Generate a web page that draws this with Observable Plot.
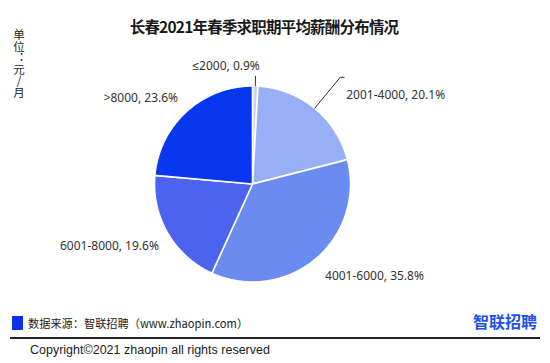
<!DOCTYPE html>
<html><head><meta charset="utf-8">
<script src="https://cdn.jsdelivr.net/npm/d3@7"></script>
<script src="https://cdn.jsdelivr.net/npm/@observablehq/plot@0.6"></script>
<style>
body{margin:0;background:#fff;}
#wrap{position:relative;width:550px;height:363px;overflow:hidden;font-family:"Noto Sans CJK SC","Noto Sans",sans-serif;color:#222;}
#wrap > div{position:absolute;white-space:nowrap;}
#title{top:16px;left:4px;width:520px;text-align:center;font-size:15.5px;letter-spacing:-0.8px;font-weight:bold;line-height:20px;color:#1a1a1a;}
#unit{left:12px;top:29px;font-size:11.5px;line-height:14px;writing-mode:vertical-rl;text-orientation:upright;}
#chart{left:0;top:0;}
#sq{left:12px;top:316px;width:11px;height:14px;background:#0a30ee;}
#src{left:28px;top:315px;font-size:11.2px;line-height:16px;}
#logo{left:473px;top:311px;font-size:16px;font-weight:bold;line-height:20px;color:#1e50ea;}
#rule{left:10px;top:337px;width:530px;height:1.5px;background:#222;}
#copy{left:30px;top:342px;font-size:12.5px;line-height:16px;font-family:"Liberation Sans",sans-serif;}
</style></head><body>
<div id="wrap">
  <div id="chart"></div>
  <div id="title">长春2021年春季求职期平均薪酬分布情况</div>
  <div id="unit">单位：元/月</div>
  <div id="sq"></div>
  <div id="src">数据来源：智联招聘（www.zhaopin.com）</div>
  <div id="logo">智联招聘</div>
  <div id="rule"></div>
  <div id="copy">Copyright©2021 zhaopin all rights reserved</div>
</div>
<script>
const categories = ["≤2000", "2001-4000", "4001-6000", "6001-8000", ">8000"];
const shares = [0.9, 20.1, 35.8, 19.6, 23.6];
const colors = ["#c8d3f5", "#98aff8", "#6a8cf1", "#4b63ee", "#0737ef"];

// label placement: radius factor, anchor, pixel nudge, leader line
const labelPlacement = {
  "≤2000":     {k: 1.2,  anchor: "end",   dx: 4,  dy: 0,  leader: [1.0, 1.1], tail: 0},
  "2001-4000": {k: 1.41, anchor: "start", dx: 6,  dy: 18, leader: [1.0, 1.41], tail: 4},
  "4001-6000": {k: 1.2,  anchor: "start", dx: -3, dy: 2},
  "6001-8000": {k: 1.2,  anchor: "end",   dx: 8,  dy: 3},
  ">8000":     {k: 1.2,  anchor: "end",   dx: 5,  dy: 1}
};

const R = 98; // pixel radius (for converting nudges)
const data = categories.map((c, i) => ({cat: c, share: shares[i], color: colors[i]}));
const arcs = d3.pie().sort(null).value(d => d.share)(data);

const marks = [];
arcs.forEach(a => {
  const pts = [{x: 0, y: 0}];
  const n = Math.max(2, Math.ceil((a.endAngle - a.startAngle) / (Math.PI / 360)));
  for (let j = 0; j <= n; j++) {
    const t = a.startAngle + (a.endAngle - a.startAngle) * j / n;
    pts.push({x: Math.sin(t), y: Math.cos(t)});
  }
  pts.push({x: 0, y: 0});
  marks.push(Plot.line(pts, {x: "x", y: "y", fill: a.data.color, stroke: "white", strokeWidth: 1.6, strokeLinejoin: "round"}));
});

const labels = arcs.map(a => {
  const m = (a.startAngle + a.endAngle) / 2;
  const p = labelPlacement[a.data.cat];
  const lab = {
    text: `${a.data.cat}, ${a.data.share.toFixed(1)}%`,
    anchor: p.anchor,
    x: p.k * Math.sin(m) + p.dx / R,
    y: p.k * Math.cos(m) - p.dy / R
  };
  if (p.leader) {
    const lpts = p.leader.map(k => ({x: k * Math.sin(m), y: k * Math.cos(m)}));
    if (p.tail) lpts.push({x: lpts[lpts.length - 1].x + p.tail / R, y: lpts[lpts.length - 1].y});
    marks.push(Plot.line(lpts, {x: "x", y: "y", stroke: "#333", strokeWidth: 1}));
  }
  return lab;
});

["start", "end"].forEach(anc => {
  marks.push(Plot.text(labels.filter(d => d.anchor === anc), {
    x: "x", y: "y", text: "text", textAnchor: anc,
    fontSize: 12, fill: "#333", fontFamily: "'Noto Sans', sans-serif"
  }));
});

const chart = Plot.plot({
  width: 550,
  height: 305,
  margin: 0,
  x: {domain: [-1, 1], range: [252 - R, 252 + R], axis: null},
  y: {domain: [-1, 1], range: [183.5 + R, 183.5 - R], axis: null},
  style: {background: "transparent", overflow: "visible"},
  marks
});
document.getElementById("chart").appendChild(chart);
</script>
</body></html>
